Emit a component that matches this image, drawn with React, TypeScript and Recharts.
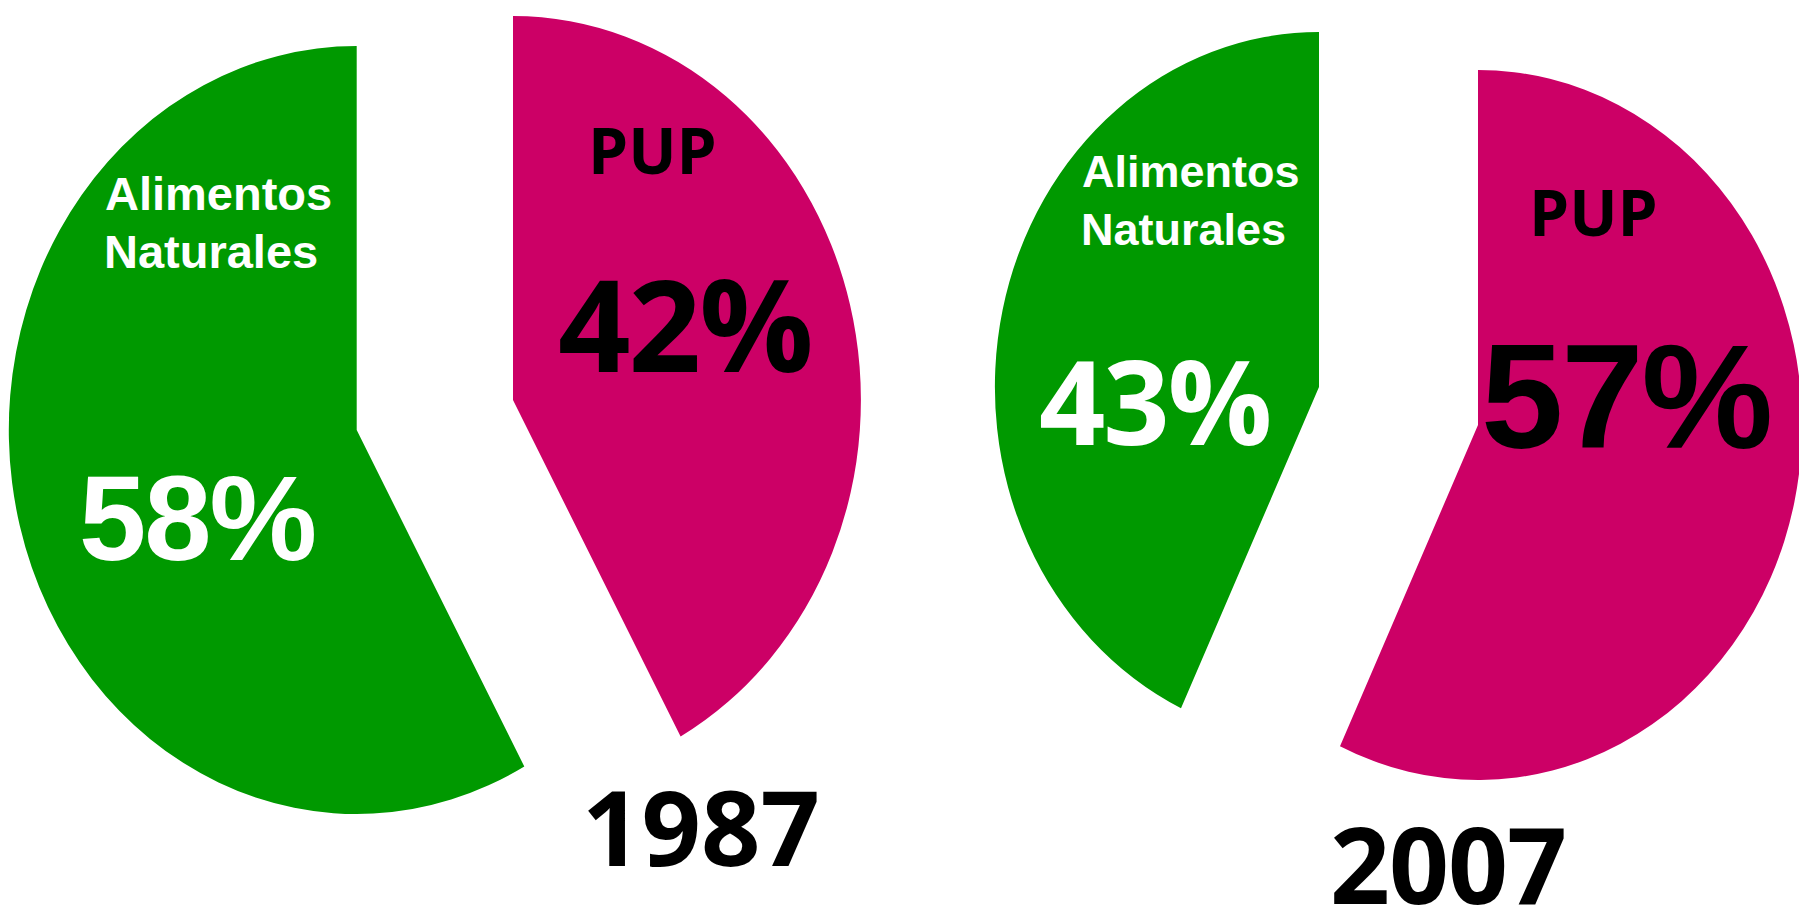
import React from 'react';
import { PieChart, Pie, Cell } from 'recharts';

// shares per year, in %
const categories = ['Alimentos Naturales', 'PUP'];
const share1987 = [58, 42];
const share2007 = [43, 57];
const years = ['1987', '2007'];

const GREEN = '#009900';
const PINK = '#cc0066';
const ARIAL = '"Liberation Sans", Arial, sans-serif';
const CALIBRI = '"Open Sans", "Noto Sans", sans-serif';

const toRows = (values: number[]) => categories.map((name, i) => ({ name, value: values[i] }));
const data1987 = toRows(share1987);
const data2007 = toRows(share2007);

// the source picture is squeezed sideways, so each chart is scaled on x
const SQUEEZE_87 = 0.906;
const SQUEEZE_07 = 0.913;

type Txt = { t: string; x: number; y: number; size: number; font: string; color: string; ls?: number };

// label text per slice, x/y in screen px relative to each chart box
const text1987: Txt[][] = [
  [
    { t: 'Alimentos', x: 105, y: 210, size: 47, font: ARIAL, color: '#fff' },
    { t: 'Naturales', x: 104, y: 268, size: 47, font: ARIAL, color: '#fff' },
    { t: `${share1987[0]}%`, x: 79, y: 560, size: 121, font: ARIAL, color: '#fff', ls: -2 },
  ],
  [
    { t: 'PUP', x: 588, y: 174, size: 64, font: CALIBRI, color: '#000' },
    { t: `${share1987[1]}%`, x: 558, y: 372, size: 127, font: CALIBRI, color: '#000', ls: -2 },
    { t: years[0], x: 582, y: 866, size: 104, font: CALIBRI, color: '#000' },
  ],
];

const text2007: Txt[][] = [
  [
    { t: 'Alimentos', x: 182, y: 187, size: 45, font: ARIAL, color: '#fff' },
    { t: 'Naturales', x: 181, y: 245, size: 45, font: ARIAL, color: '#fff' },
    { t: `${share2007[0]}%`, x: 139, y: 445, size: 116, font: CALIBRI, color: '#fff', ls: -2 },
  ],
  [
    { t: 'PUP', x: 629, y: 236, size: 64, font: CALIBRI, color: '#000' },
    { t: `${share2007[1]}%`, x: 581, y: 448, size: 148, font: ARIAL, color: '#000', ls: -2 },
    { t: years[1], x: 430, y: 904, size: 105, font: CALIBRI, color: '#000', ls: -1 },
  ],
];

const slice = (show: number) =>
  categories.map((c, i) => (
    <Cell key={c} fill={i !== show ? 'transparent' : i === 0 ? GREEN : PINK} stroke="none" />
  ));

// undo the chart's x squeeze for the text so glyphs keep their shape
const makeLabel = (k: number, texts: Txt[][], show: number) => (props: any) => {
  if (props.index !== show) return null;
  return (
    <g transform={`scale(${1 / k},1)`}>
      {texts[show].map((d) => (
        <text key={d.t} x={d.x} y={d.y} fill={d.color} fontFamily={d.font} fontWeight="bold"
          fontSize={d.size} letterSpacing={d.ls ?? 0} textAnchor="start">
          {d.t}
        </text>
      ))}
    </g>
  );
};

function YearPie({ data, k, green, pink, r, texts, left }: any) {
  const w = Math.ceil(900 / k);
  return (
    <div style={{ position: 'absolute', left, top: 0, transform: `scaleX(${k})`, transformOrigin: '0 0' }}>
      <PieChart width={w} height={912} margin={{ top: 0, right: 0, bottom: 0, left: 0 }}>
        <Pie data={data} dataKey="value" cx={green[0] / k} cy={green[1]} outerRadius={r}
          startAngle={90} endAngle={450} isAnimationActive={false} stroke="none"
          labelLine={false} label={makeLabel(k, texts, 0)}>
          {slice(0)}
        </Pie>
        <Pie data={data} dataKey="value" cx={pink[0] / k} cy={pink[1]} outerRadius={r}
          startAngle={90} endAngle={450} isAnimationActive={false} stroke="none"
          labelLine={false} label={makeLabel(k, texts, 1)}>
          {slice(1)}
        </Pie>
      </PieChart>
    </div>
  );
}

export default function App() {
  return (
    <div style={{ position: 'relative', width: 1799, height: 912, overflow: 'hidden', background: '#fff' }}>
      <style>{'body { margin: 0; }'}</style>
      <YearPie data={data1987} k={SQUEEZE_87} green={[356.7, 430]} pink={[513, 400]} r={384} texts={text1987} left={0} />
      <YearPie data={data2007} k={SQUEEZE_07} green={[419, 387]} pink={[578, 425]} r={355} texts={text2007} left={900} />
    </div>
  );
}
